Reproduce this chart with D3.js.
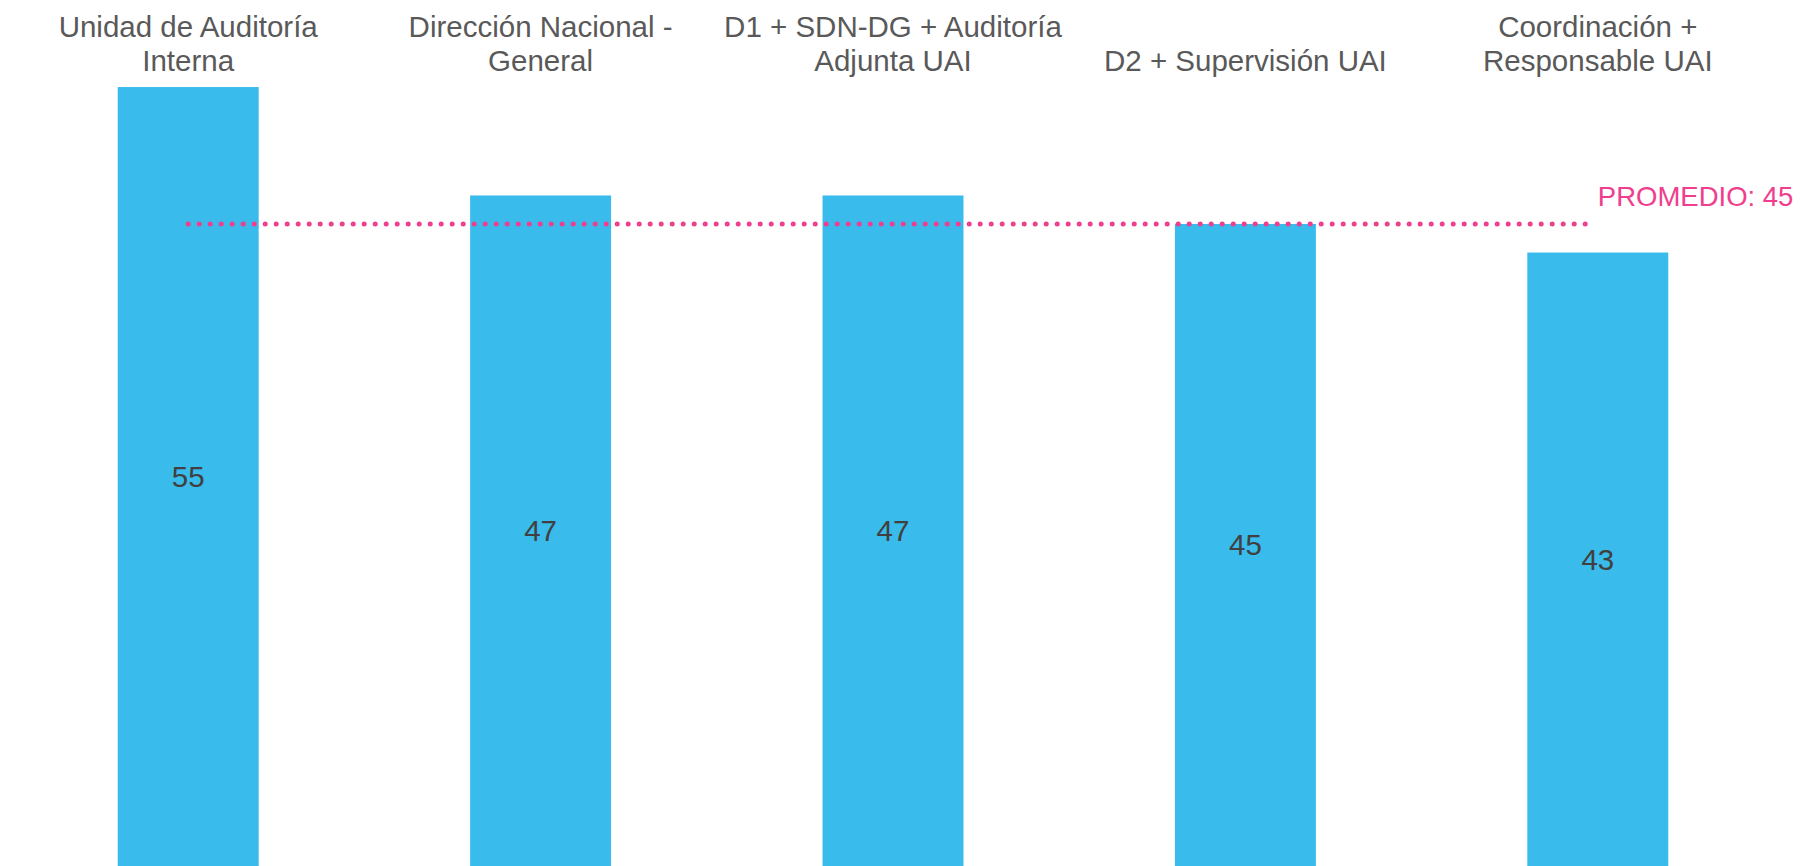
<!DOCTYPE html>
<html>
<head>
<meta charset="utf-8">
<script src="https://cdn.jsdelivr.net/npm/d3@7"></script>
<style>
  body { margin: 0; background: #fff; }
  svg { display: block; font-family: "Liberation Sans", Arial, sans-serif; }
</style>
</head>
<body>
<div id="chart"></div>
<script>
// data
const categories = [
  "Unidad de Auditoría Interna",
  "Dirección Nacional - General",
  "D1 + SDN-DG + Auditoría Adjunta UAI",
  "D2 + Supervisión UAI",
  "Coordinación + Responsable UAI"
];
const labelLines = [
  ["Unidad de Auditoría", "Interna"],
  ["Dirección Nacional -", "General"],
  ["D1 + SDN-DG + Auditoría", "Adjunta UAI"],
  ["D2 + Supervisión UAI"],
  ["Coordinación +", "Responsable UAI"]
];
const values = [54.6, 47, 47, 45, 43];
const promedio = 45;
const promedioLabel = "PROMEDIO: ";

const svgWidth = 1800;
const svgHeight = 866;

const svg = d3.select("#chart")
  .append("svg")
  .attr("width", svgWidth)
  .attr("height", svgHeight);

const data = categories.map((c, i) => ({ cat: c, value: values[i], lines: labelLines[i] }));

// scales
const xScale = d3.scaleBand()
  .domain(categories)
  .range([12, 1774])
  .paddingInner(0.6)
  .paddingOuter(0.3);

const yScale = d3.scaleLinear()
  .domain([0, 60])
  .range([svgHeight, 10]);

// bars
svg.selectAll("rect.bar")
  .data(data)
  .enter()
  .append("rect")
  .attr("class", "bar")
  .attr("x", d => xScale(d.cat))
  .attr("y", d => yScale(d.value))
  .attr("width", xScale.bandwidth())
  .attr("height", d => yScale(0) - yScale(d.value))
  .attr("fill", "#39BBEC");

// value labels in the middle of each bar
svg.selectAll("text.value")
  .data(data)
  .enter()
  .append("text")
  .attr("class", "value")
  .attr("x", d => xScale(d.cat) + xScale.bandwidth() / 2)
  .attr("y", d => (yScale(d.value) + yScale(0)) / 2)
  .attr("dy", "0.35em")
  .attr("text-anchor", "middle")
  .attr("font-size", "29.5px")
  .attr("fill", "#404040")
  .text(d => Math.round(d.value));

// category labels on top, bottom aligned
const lineGap = 34;
const lastBaseline = 71;
const catLabels = svg.selectAll("text.cat")
  .data(data)
  .enter()
  .append("text")
  .attr("class", "cat")
  .attr("text-anchor", "middle")
  .attr("font-size", "29.5px")
  .attr("fill", "#595959");

catLabels.each(function (d) {
  const cx = xScale(d.cat) + xScale.bandwidth() / 2;
  const n = d.lines.length;
  d3.select(this).selectAll("tspan")
    .data(d.lines)
    .enter()
    .append("tspan")
    .attr("x", cx)
    .attr("y", (l, i) => lastBaseline - (n - 1 - i) * lineGap)
    .text(l => l);
});

// average line
const firstC = xScale(categories[0]) + xScale.bandwidth() / 2;
const lastC = xScale(categories[categories.length - 1]) + xScale.bandwidth() / 2;

svg.append("line")
  .attr("x1", firstC)
  .attr("x2", lastC - 8)
  .attr("y1", yScale(promedio))
  .attr("y2", yScale(promedio))
  .attr("stroke", "#EF3E8D")
  .attr("stroke-width", 5)
  .attr("stroke-linecap", "round")
  .attr("stroke-dasharray", "0 11");

svg.append("text")
  .attr("x", lastC)
  .attr("y", yScale(promedio) - 18)
  .attr("font-size", "27.5px")
  .attr("fill", "#EF3E8D")
  .text(promedioLabel + promedio);
</script>
</body>
</html>
